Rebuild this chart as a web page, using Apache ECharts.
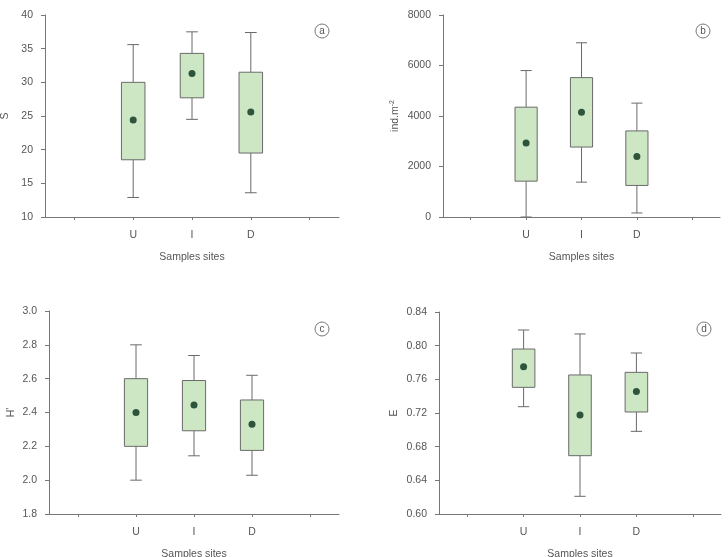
<!DOCTYPE html>
<html>
<head>
<meta charset="utf-8">
<script src="https://cdn.jsdelivr.net/npm/echarts@6/dist/echarts.min.js"></script>
<style>
  html, body { margin: 0; padding: 0; background: #fff; }
  #main { width: 728px; height: 557px; }
</style>
</head>
<body>
<div id="main"></div>
<script>
// categories on the x axis (empty slots left and right, like the original)
var xCategories = ['', 'U', 'I', 'D', ''];
var siteIndex = [1, 2, 3];

// each box: [min, Q1, Q3, max] for U, I, D
var richnessBox = [[12.9, 18.5, 30.0, 35.6], [24.5, 27.7, 34.3, 37.5], [13.6, 19.5, 31.5, 37.4]];
var richnessMean = [24.4, 31.3, 25.6];

var densityBox = [[0, 1420, 4350, 5800], [1380, 2770, 5520, 6900], [160, 1250, 3410, 4510]];
var densityMean = [2930, 4150, 2400];

var shannonBox = [[2.0, 2.2, 2.6, 2.8], [2.144, 2.292, 2.589, 2.737], [2.029, 2.176, 2.474, 2.62]];
var shannonMean = [2.4, 2.444, 2.33];

var evenBox = [[0.7275, 0.7505, 0.796, 0.8186], [0.621, 0.6693, 0.7652, 0.8139], [0.6982, 0.7212, 0.7683, 0.7913]];
var evenMean = [0.775, 0.7176, 0.7454];

var textColor = '#555';
var lineColor = '#777';
var font = 'Liberation Sans, Arial, sans-serif';

var myChart = echarts.init(document.getElementById('main'));

function renderBox(params, api) {
    var x = api.value(0);
    var pMin = api.coord([x, api.value(1)]);
    var pQ1 = api.coord([x, api.value(2)]);
    var pQ3 = api.coord([x, api.value(3)]);
    var pMax = api.coord([x, api.value(4)]);
    var bw = api.size([1, 0])[0] * 0.4;
    var cap = bw / 4;
    var ls = { stroke: '#6a6a6a', lineWidth: 1 };
    return {
        type: 'group',
        children: [
            { type: 'line', shape: { x1: pMax[0], y1: pMax[1], x2: pQ3[0], y2: pQ3[1] }, style: ls },
            { type: 'line', shape: { x1: pQ1[0], y1: pQ1[1], x2: pMin[0], y2: pMin[1] }, style: ls },
            { type: 'line', shape: { x1: pMax[0] - cap, y1: pMax[1], x2: pMax[0] + cap, y2: pMax[1] }, style: ls },
            { type: 'line', shape: { x1: pMin[0] - cap, y1: pMin[1], x2: pMin[0] + cap, y2: pMin[1] }, style: ls },
            { type: 'rect', shape: { x: pQ3[0] - bw / 2, y: pQ3[1], width: bw, height: pQ1[1] - pQ3[1] },
              style: { fill: '#cde7c4', stroke: '#6a6a6a', lineWidth: 1 } }
        ]
    };
}

function boxData(box) {
    return box.map(function (b, i) { return [siteIndex[i]].concat(b); });
}
function meanData(mean) {
    return mean.map(function (m, i) { return [siteIndex[i], m]; });
}

var grids = [
    { left: 45, top: 15, width: 294, height: 202, outerBoundsMode: 'none' },
    { left: 443, top: 15, width: 277, height: 202, outerBoundsMode: 'none' },
    { left: 49, top: 311, width: 290, height: 203, outerBoundsMode: 'none' },
    { left: 439, top: 312, width: 282, height: 202, outerBoundsMode: 'none' }
];

var yAxes = [
    { min: 10, max: 40, interval: 5, name: 'S', nameGap: 34, fmt: 0 },
    { min: 0, max: 8000, interval: 2000, name: 'ind.m{sup|-2}', nameGap: 42, fmt: 0 },
    { min: 1.8, max: 3.0, interval: 0.2, name: "H'", nameGap: 32, fmt: 1 },
    { min: 0.60, max: 0.84, interval: 0.04, name: 'E', nameGap: 39, fmt: 2 }
];

var boxes = [richnessBox, densityBox, shannonBox, evenBox];
var means = [richnessMean, densityMean, shannonMean, evenMean];
var tags = ['a', 'b', 'c', 'd'];

var option = {
    animation: false,
    textStyle: { fontFamily: font },
    grid: grids,
    xAxis: grids.map(function (g, i) {
        return {
            gridIndex: i,
            type: 'category',
            data: xCategories,
            name: 'Samples sites',
            nameLocation: 'middle',
            nameGap: 35,
            nameTextStyle: { color: textColor, fontSize: 10.5, fontFamily: font },
            axisLine: { lineStyle: { color: lineColor } },
            axisTick: { show: true, interval: 0, alignWithLabel: true, length: 3, lineStyle: { color: lineColor } },
            axisLabel: { color: textColor, fontSize: 10.5, margin: 13, interval: 0, fontFamily: font },
            splitLine: { show: false }
        };
    }),
    yAxis: yAxes.map(function (y, i) {
        return {
            gridIndex: i,
            type: 'value',
            min: y.min,
            max: y.max,
            interval: y.interval,
            name: y.name,
            nameLocation: 'middle',
            nameRotate: 90,
            nameGap: y.nameGap,
            nameTextStyle: {
                color: textColor, fontSize: 10.5, fontFamily: font,
                rich: { sup: { fontSize: 7, verticalAlign: 'top', color: textColor, padding: [0, 0, 5, 0] } }
            },
            axisLine: { show: true, lineStyle: { color: lineColor } },
            axisTick: { show: true, length: 4, lineStyle: { color: lineColor } },
            axisLabel: {
                color: textColor, fontSize: 10.5, margin: 12, fontFamily: font,
                formatter: (function (d) { return function (v) { return v.toFixed(d); }; })(y.fmt)
            },
            splitLine: { show: false }
        };
    }),
    series: [],
    graphic: []
};

boxes.forEach(function (b, i) {
    option.series.push({
        type: 'custom',
        xAxisIndex: i,
        yAxisIndex: i,
        renderItem: renderBox,
        encode: { x: 0, y: [1, 2, 3, 4] },
        data: boxData(b)
    });
    option.series.push({
        type: 'scatter',
        xAxisIndex: i,
        yAxisIndex: i,
        symbolSize: 7,
        itemStyle: { color: '#06301a' },
        data: meanData(means[i]),
        z: 5
    });
});

// circled panel letters
var tagPos = [[322, 31], [703, 31], [322, 329], [704, 329]];
tags.forEach(function (t, i) {
    option.graphic.push({
        type: 'circle',
        shape: { cx: tagPos[i][0], cy: tagPos[i][1], r: 7 },
        style: { fill: '#fff', stroke: '#777', lineWidth: 1 }
    });
    option.graphic.push({
        type: 'text',
        x: tagPos[i][0],
        y: tagPos[i][1],
        style: { text: t, fill: '#555', font: '10px ' + font, align: 'center', verticalAlign: 'middle' }
    });
});

myChart.setOption(option);
</script>
</body>
</html>
